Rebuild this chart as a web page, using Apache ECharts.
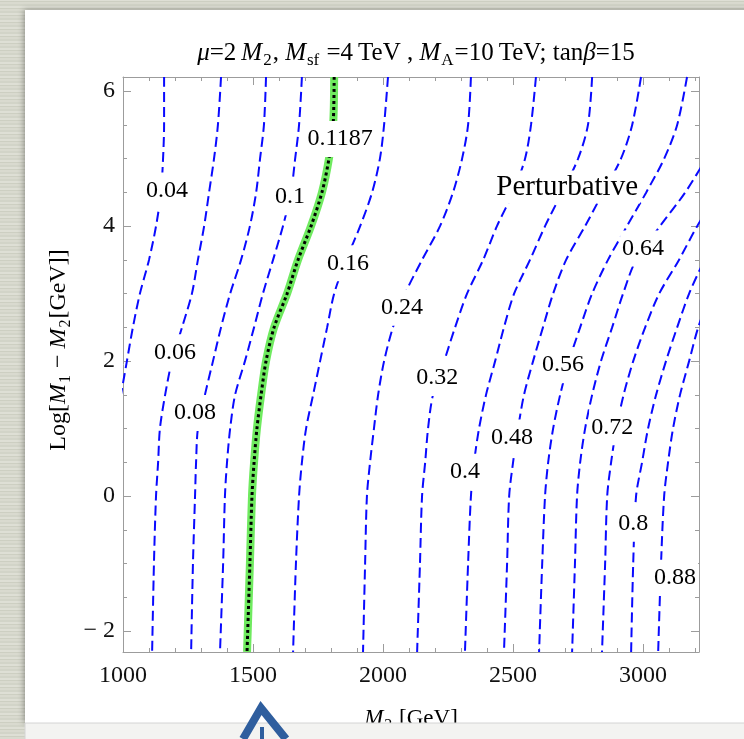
<!DOCTYPE html>
<html>
<head>
<meta charset="UTF-8">
<title>Contours M2 vs Log[M1-M2]</title>
<script src="https://cdn.jsdelivr.net/npm/echarts@6.0.0/dist/echarts.min.js"></script>
<style>
    html, body { margin: 0; padding: 0; }
    body {
        background: #d6d7cc repeating-linear-gradient(0deg, #d9dacf 0 2px, #cdcfc2 2px 3px, #dedfd5 3px 5px, #d2d4c8 5px 7px);
    }
    #chart { width: 744px; height: 739px; }
</style>
</head>
<body>
<div id="chart"></div>
<script>
const yLevels = [6.21, 5.5, 5, 4.5, 4, 3.5, 3, 2.5, 2, 1.5, 1, 0.5, 0, -1, -2.31];

// M2 [GeV] of each contour at those levels
const m2_004 = [1158, 1158, 1154, 1146, 1127, 1100, 1065, 1038, 1015, 992, null, null, null, null, null];
const m2_006 = [1377, 1365, 1350, 1331, 1312, 1288, 1265, 1227, 1188, 1162, 1142, 1135, 1127, 1119, 1112];
const m2_008 = [1550, 1542, 1527, 1512, 1488, 1454, 1412, 1377, 1346, 1315, 1288, 1281, 1277, 1269, 1262];
const m2_010 = [1688, 1677, 1662, 1646, 1615, 1577, 1538, 1504, 1469, 1431, 1412, 1400, 1392, 1385, 1373];
const m2_016 = [2019, 2004, 1988, 1958, 1912, 1858, 1812, 1785, 1758, 1731, 1704, 1688, 1677, 1665, 1654];
const m2_024 = [2338, 2327, 2304, 2269, 2219, 2150, 2085, 2038, 2004, 1981, 1965, 1950, 1938, 1931, 1923];
const m2_032 = [2588, 2569, 2546, 2500, 2438, 2385, 2323, 2277, 2235, 2192, 2173, 2162, 2150, 2142, 2131];
const m2_040 = [2804, 2788, 2750, 2688, 2623, 2565, 2504, 2465, 2431, 2396, 2369, 2350, 2338, 2327, 2315];
const m2_048 = [2992, 2958, 2915, 2846, 2777, 2704, 2654, 2615, 2577, 2542, 2519, 2500, 2485, 2477, 2465];
const m2_056 = [3169, 3131, 3081, 3012, 2938, 2865, 2804, 2758, 2715, 2681, 2654, 2635, 2623, 2612, 2600];
const m2_064 = [3427, 3315, 3242, 3162, 3065, 2973, 2923, 2881, 2838, 2804, 2777, 2758, 2746, 2738, 2727];
const m2_072 = [3546, 3438, 3365, 3288, 3208, 3138, 3062, 3008, 2962, 2925, 2897, 2877, 2862, 2854, 2842];
const m2_080 = [3604, 3488, 3412, 3346, 3288, 3235, 3177, 3131, 3088, 3050, 3019, 2996, 2973, 2962, 2954];
const m2_088 = [3700, 3560, 3480, 3420, 3370, 3320, 3260, 3212, 3177, 3142, 3115, 3096, 3081, 3069, 3058];
// the 0.1187 contour (green)
const m2_01187 = [1812, 1808, 1792, 1765, 1723, 1673, 1631, 1581, 1550, 1531, 1515, 1504, 1496, 1488, 1477];

const blueContours = [m2_004, m2_006, m2_008, m2_010, m2_016, m2_024, m2_032,
                      m2_040, m2_048, m2_056, m2_064, m2_072, m2_080, m2_088];

// contour labels
const labelText = ['0.04', '0.06', '0.08', '0.1', '0.1187', '0.16', '0.24', '0.32',
                   '0.4', '0.48', '0.56', '0.64', '0.72', '0.8', '0.88'];
const labelM2 = [1169, 1200, 1277, 1642, 1835, 1865, 2073, 2208, 2315, 2496, 2692, 3000, 2881, 2962, 3123];
const labelLog = [4.53, 2.13, 1.23, 4.43, 5.29, 3.45, 2.79, 1.75, 0.36, 0.87, 1.94, 3.67, 1.02, -0.41, -1.21];

const noteText = ['Perturbative'];
const noteM2 = [2708];
const noteLog = [4.58];

// ticks
const xMajor = [1000, 1500, 2000, 2500, 3000];
const xMinor = [1100, 1200, 1300, 1400, 1600, 1700, 1800, 1900, 2100, 2200, 2300, 2400,
                2600, 2700, 2800, 2900, 3100, 3200];
const yMajor = [-2, 0, 2, 4, 6];
const yMinor = [-1.5, -1, -0.5, 0.5, 1, 1.5, 2.5, 3, 3.5, 4.5, 5, 5.5];

const X_MIN = 1000, X_MAX = 3215, Y_MIN = -2.31, Y_MAX = 6.21;

const FONT = 'Liberation Serif';
const FRAME = '#9c9c9c';

function toPairs(xs) {
    const out = [];
    xs.forEach((x, i) => { if (x !== null) out.push([x, yLevels[i]]); });
    return out;
}

function richSet(size) {
    return {
        i: { fontFamily: FONT, fontStyle: 'italic', fontWeight: 'normal', fontSize: size, color: '#000' },
        s: { fontFamily: FONT, fontWeight: 'normal', fontSize: Math.round(size * 0.68), color: '#000',
             padding: [Math.round(size * 0.6), 1, 0, 1] },
        n: { fontFamily: FONT, fontWeight: 'normal', fontSize: size, color: '#000' }
    };
}

function xAxisDef(pos, ticks, len, withLine, withLabel) {
    return {
        type: 'value', min: X_MIN, max: X_MAX, position: pos,
        axisLine: { show: withLine, onZero: false, lineStyle: { color: FRAME, width: 1 } },
        axisTick: { show: true, inside: true, length: len, customValues: ticks,
                    lineStyle: { color: FRAME, width: 1 } },
        axisLabel: withLabel ? { show: true, customValues: ticks, fontFamily: FONT, fontSize: 24,
                                 color: '#111', margin: 12, formatter: v => String(v) } : { show: false },
        splitLine: { show: false }
    };
}

function yAxisDef(pos, ticks, len, withLine, withLabel) {
    return {
        type: 'value', min: Y_MIN, max: Y_MAX, position: pos,
        axisLine: { show: withLine, onZero: false, lineStyle: { color: FRAME, width: 1 } },
        axisTick: { show: true, inside: true, length: len, customValues: ticks,
                    lineStyle: { color: FRAME, width: 1 } },
        axisLabel: withLabel ? { show: true, customValues: ticks, fontFamily: FONT, fontSize: 24,
                                 color: '#111', margin: 8,
                                 formatter: v => v < 0 ? '\u2212 ' + (-v) : String(v) } : { show: false },
        splitLine: { show: false }
    };
}

const xMain = xAxisDef('bottom', xMajor, 8, true, true);
xMain.name = '{i|M}{s|2}{n| [GeV]}';
xMain.nameLocation = 'middle';
xMain.nameGap = 52;
xMain.nameTextStyle = { rich: richSet(23) };

const series = [];
blueContours.forEach(xs => {
    series.push({
        type: 'line', data: toPairs(xs), symbol: 'none', smooth: 0.3, clip: true,
        lineStyle: { color: '#0a0aff', width: 2, type: [10, 5] }, z: 2, silent: true
    });
});
series.push({
    type: 'line', data: toPairs(m2_01187), symbol: 'none', smooth: 0.3, clip: true,
    lineStyle: { color: '#6fea5f', width: 8, cap: 'butt' }, z: 3, silent: true
});
series.push({
    type: 'line', data: toPairs(m2_01187), symbol: 'none', smooth: 0.3, clip: true,
    lineStyle: { color: '#000', width: 3, type: [3, 3], cap: 'butt' }, z: 4, silent: true
});
series.push({
    type: 'scatter', z: 6, silent: true, symbolSize: 1,
    itemStyle: { color: 'transparent', opacity: 1 },
    data: labelText.map((t, i) => [labelM2[i], labelLog[i], t]),
    label: {
        show: true, position: 'inside', formatter: p => p.data[2], opacity: 1,
        fontFamily: FONT, fontSize: 24, color: '#000', textBorderWidth: 0,
        backgroundColor: '#fff', padding: [6, 2]
    }
});
series.push({
    type: 'scatter', z: 6, silent: true, symbolSize: 1,
    itemStyle: { color: 'transparent', opacity: 1 },
    data: noteText.map((t, i) => [noteM2[i], noteLog[i], t]),
    label: {
        show: true, position: 'inside', formatter: p => p.data[2], opacity: 1,
        fontFamily: FONT, fontSize: 29, color: '#000', textBorderWidth: 0,
        backgroundColor: '#fff', padding: [2, 2]
    }
});

const chart = echarts.init(document.getElementById('chart'), null, { renderer: 'canvas' });
chart.setOption({
    animation: false,
    backgroundColor: 'transparent',
    title: {
        text: '{i|\u03bc}{n|=2\u2009}{i|M}{s|2}{n|, }{i|M}{s|sf}{n| =4\u2009TeV , }{i|M}{s|A}{n|=10\u2009TeV; tan}{i|\u03b2}{n|=15}',
        left: 411, top: 32, textAlign: 'center',
        textStyle: { fontWeight: 'normal', rich: richSet(25) }
    },
    graphic: [
        {
            type: 'rect', z: -10, silent: true,
            shape: { x: 25, y: 10, width: 730, height: 713 },
            style: { fill: '#ffffff', shadowBlur: 6, shadowColor: 'rgba(0,0,0,0.35)', shadowOffsetX: -1 }
        },
        {
            type: 'text', z: 10, silent: true,
            x: 59, y: 350, rotation: Math.PI / 2,
            style: {
                text: '{n|Log[}{i|M}{s|1}{n| \u2212 }{i|M}{s|2}{n|[GeV]]}',
                rich: richSet(24), align: 'center', verticalAlign: 'middle'
            }
        },
        {
            type: 'rect', z: 100, silent: true,
            shape: { x: 25, y: 723, width: 730, height: 20 },
            style: { fill: '#f3f3f1', stroke: '#d4d4d4', lineWidth: 1 }
        },
        {
            type: 'polyline', z: 101, silent: true,
            shape: { points: [[243, 739], [261, 708], [286, 739]] },
            style: { stroke: '#2f5e9e', lineWidth: 8, lineJoin: 'miter', fill: null }
        },
        {
            type: 'line', z: 101, silent: true,
            shape: { x1: 262, y1: 727, x2: 262, y2: 739 },
            style: { stroke: '#2f5e9e', lineWidth: 4 }
        }
    ],
    grid: { left: 123, right: 45, top: 77, bottom: 87, containLabel: false },
    xAxis: [
        xMain,
        xAxisDef('bottom', xMinor, 4, false, false),
        xAxisDef('top', xMajor, 8, true, false),
        xAxisDef('top', xMinor, 4, false, false)
    ],
    yAxis: [
        yAxisDef('left', yMajor, 8, true, true),
        yAxisDef('left', yMinor, 4, false, false),
        yAxisDef('right', yMajor, 8, true, false),
        yAxisDef('right', yMinor, 4, false, false)
    ],
    series: series
});
</script>
</body>
</html>
